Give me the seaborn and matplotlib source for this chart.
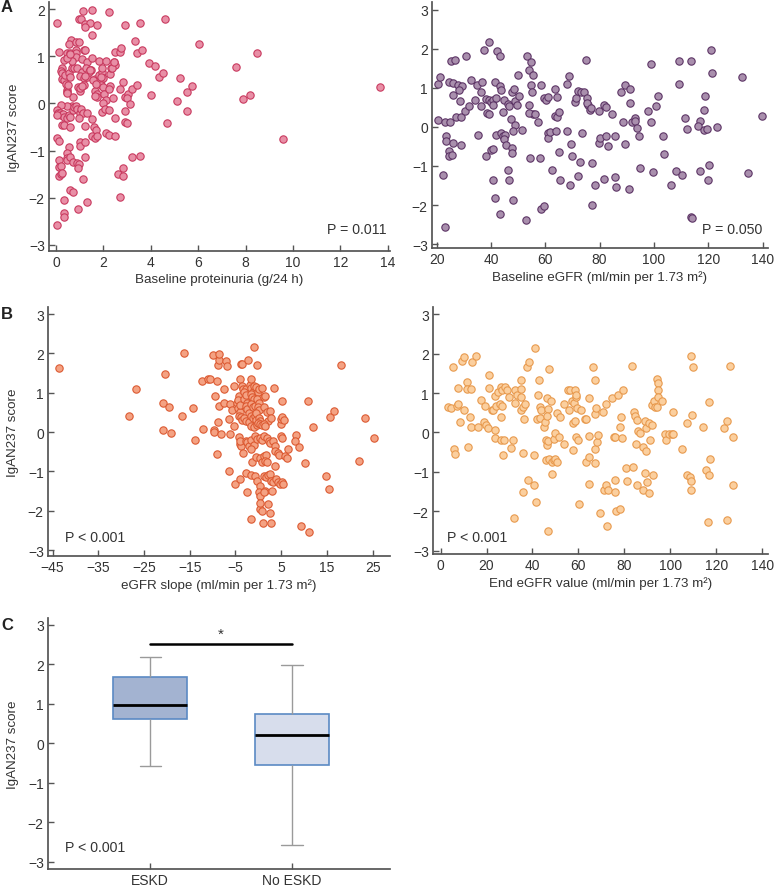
import pandas as pd
import matplotlib.pyplot as plt
import seaborn as sns

# A left: baseline proteinuria vs score
prot_x = [0.04, 1.14, 1.52, 2.22, 0.96, 1.05, 1.23, 1.43, 1.24, 1.73, 1.52, 2.92, 3.53, 4.61, 0.62, 0.53, 0.83, 0.96, 3.33, 6.03,
          0.11, 0.32, 0.46, 0.58, 0.83, 0.83, 1.17, 1.24, 0.86, 1.10, 1.32, 1.50, 1.81, 2.12, 2.43, 2.50, 2.50, 2.70, 2.72, 3.42,
          3.63, 0.27, 0.21, 0.24, 0.27, 0.32, 0.37, 0.53, 0.67, 0.74, 0.87, 1.10, 1.25, 1.42, 1.48, 1.03, 1.17, 1.31, 1.38, 1.63,
          1.80, 1.94, 1.94, 1.91, 2.00, 2.29, 2.32, 2.26, 2.83, 3.91, 4.19, 4.33, 4.51, 5.22, 5.72, 5.52, 7.61, 8.49, 13.68, 7.91,
          8.19, 5.10, 5.52, 4.02, 4.68, 9.60, 0.42, 0.46, 0.44, 0.72, 0.93, 1.00, 1.03, 1.17, 1.66, 1.73, 1.73, 1.90, 2.00, 2.04,
          2.12, 2.00, 1.94, 2.05, 2.22, 2.40, 2.68, 2.89, 3.02, 2.99, 3.22, 3.42, 3.13, 2.92, 2.22, 2.50, 2.91, 2.99, 0.25, 0.32,
          0.60, 0.67, 0.44, 0.22, 1.24, 1.52, 1.62, 1.70, 1.52, 1.66, 1.73, 2.12, 2.22, 2.50, 0.04, 0.13, 1.03, 1.03, 1.22, 0.53,
          1.21, 0.44, 0.44, 0.46, 0.60, 0.72, 0.89, 0.96, 0.91, 0.11, 0.11, 0.22, 0.11, 0.22, 0.25, 3.20, 3.53, 2.62, 2.83, 2.83,
          1.12, 0.60, 0.72, 0.32, 2.71, 1.31, 0.93, 0.32, 0.32, 0.04, 0.05, 0.10, 0.15, 0.20, 0.30, 0.35, 0.45, 0.55, 0.60, 0.70,
          0.75, 0.85, 0.90, 1.00, 1.05, 1.15, 1.30, 0.95, 0.02, 0.68, 0.45, 0.60, 0.52, 0.58, 1.08, 1.20, 1.45, 0.48, 1.55, 1.70,
          1.90, 2.35, 2.45, 1.65]
prot_y = [1.70, 1.96, 1.97, 1.93, 1.80, 1.80, 1.68, 1.71, 1.61, 1.66, 1.45, 1.66, 1.70, 1.80, 1.34, 1.27, 1.31, 1.31, 1.32, 1.27,
          1.09, 0.93, 1.06, 1.06, 1.13, 1.06, 1.13, 1.13, 0.99, 0.94, 0.87, 0.96, 0.90, 0.90, 0.88, 0.81, 1.10, 1.10, 1.17, 1.07,
          1.13, 0.76, 0.69, 0.65, 0.51, 0.50, 0.60, 0.65, 0.76, 0.74, 0.74, 0.67, 0.74, 0.71, 0.71, 0.58, 0.53, 0.55, 0.67, 0.51,
          0.60, 0.67, 0.74, 0.50, 0.53, 0.62, 0.74, 0.37, 0.46, 0.86, 0.79, 0.57, 0.64, 0.54, 0.37, 0.25, 0.78, 1.07, 0.34, 0.10,
          0.18, 0.05, -0.16, 0.17, -0.42, -0.76, 0.42, 0.28, 0.25, 0.13, 0.34, 0.27, 0.32, 0.39, 0.27, 0.20, 0.13, 0.39, 0.35, 0.19,
          0.08, 0.01, -0.18, -0.11, 0.30, 0.11, 0.30, 0.13, 0.20, 0.11, 0.31, 0.39, -0.02, -0.17, -0.14, -0.30, -0.39, -0.41, -0.45, -0.45,
          -0.50, -0.06, -0.06, -0.04, -0.47, -0.34, -0.50, -0.57, -0.69, -0.74, -0.69, -0.62, -0.67, -0.69, -0.74, -0.79, -0.81, -0.91, -0.81, -0.93,
          -1.13, -1.06, -1.16, -1.20, -1.13, -1.24, -1.27, -1.29, -1.38, -1.20, -1.34, -1.33, -1.54, -1.50, -1.47, -1.13, -1.11, -1.50, -1.54, -1.36,
          -1.61, -1.84, -1.87, -2.05, -1.99, -2.09, -2.23, -2.32, -2.40, -2.58, -0.15, -0.20, -0.20, -0.25, -0.22, -0.28, -0.30, -0.25, -0.28, -0.15,
          -0.08, -0.05, -0.12, -0.20, -0.12, -0.20, -0.20, -0.30, -0.25, 0.90, 0.96, 1.05, 0.40, 0.55, 0.37, 0.58, 0.70, 0.22, 0.50, 0.42,
          0.55, 0.75, 0.88, 0.15]

# A right: baseline eGFR vs score
base_x = [20.4, 21.2, 20.4, 23.0, 25.1, 23.3, 23.3, 24.5, 24.5, 25.5, 26.1, 29.1, 22.4, 23.0, 25.2, 26.7, 30.9, 24.6, 26.1, 27.9,
          29.5, 26.1, 28.3, 28.7, 27.2, 29.1, 30.3, 32.1, 32.8, 34.8, 36.8, 34.0, 36.4, 36.4, 39.4, 37.6, 42.1, 43.4, 38.0, 39.4,
          40.0, 40.9, 41.9, 38.5, 39.4, 40.6, 41.6, 43.3, 43.7, 44.3, 44.7, 46.1, 46.7, 47.9, 48.5, 48.9, 49.5, 50.4, 50.1, 47.3,
          48.9, 48.2, 51.6, 35.2, 38.2, 40.0, 40.9, 41.9, 43.7, 44.3, 45.3, 44.9, 45.5, 47.9, 47.9, 46.1, 46.5, 40.6, 41.6, 43.4,
          48.3, 52.8, 53.1, 54.6, 54.0, 55.5, 54.6, 55.2, 55.5, 54.0, 54.0, 56.4, 57.3, 58.6, 54.5, 58.0, 58.6, 59.5, 59.5, 60.1,
          60.9, 60.9, 60.9, 61.9, 62.5, 63.4, 63.7, 64.3, 64.1, 64.3, 64.9, 65.2, 65.3, 68.0, 68.6, 68.0, 69.4, 69.8, 69.2, 70.8,
          71.3, 72.2, 73.2, 74.1, 73.4, 72.8, 72.0, 75.0, 75.5, 75.9, 76.5, 75.3, 76.7, 77.3, 77.1, 78.3, 79.8, 79.8, 80.1, 81.7,
          82.2, 82.3, 83.2, 81.7, 84.4, 85.6, 85.6, 86.0, 87.8, 88.8, 89.5, 91.1, 89.5, 91.3, 90.8, 92.0, 92.9, 93.2, 93.8, 94.5,
          95.0, 97.7, 98.9, 98.9, 99.6, 100.8, 101.4, 103.5, 103.8, 106.4, 108.1, 109.1, 109.3, 110.3, 111.5, 112.3, 113.5, 113.5, 114.1, 116.8,
          116.8, 116.1, 118.3, 118.9, 118.3, 119.5, 120.2, 119.8, 121.4, 121.1, 123.2, 132.4, 134.8, 139.9]
base_y = [1.11, 1.28, 0.19, 0.12, 0.12, -0.24, -0.37, -0.62, -0.75, -0.73, -0.41, -0.45, -1.24, -2.57, 1.68, 1.71, 1.81, 1.15, 1.13, 1.08,
          1.04, 0.83, 0.94, 0.67, 0.26, 0.26, 0.40, 0.53, 1.19, 1.08, 1.15, 0.70, 0.89, 0.53, 2.17, 1.98, 1.95, 1.81, 0.72, 0.70,
          0.63, 0.70, 0.74, 0.36, 0.32, 0.55, 1.14, 1.06, 0.94, 0.38, 0.70, 0.60, 0.53, 0.89, 0.96, 0.66, 0.55, 0.78, 1.34, 0.21,
          0.06, -0.11, -0.07, -0.20, -0.75, -0.60, -0.56, -0.20, -0.15, -0.24, -0.20, -0.32, -0.45, -0.54, -0.67, -1.11, -1.35, -1.37, -1.82, -2.22,
          -1.86, -2.39, 1.81, 1.66, 1.45, 1.34, 1.08, 0.89, 0.32, 0.57, 0.36, 0.32, 0.12, 1.08, -0.79, -0.79, -2.09, -2.03, 0.73, 0.70,
          0.77, -0.15, -0.28, -0.14, -1.11, 0.97, 0.27, 0.25, -0.11, 0.76, 0.38, -0.65, -1.35, 1.11, 1.31, -0.11, -0.44, -0.75, -1.48, 0.63,
          0.73, 0.91, 0.89, 0.89, -0.15, -0.90, -1.26, 1.71, 0.74, 0.57, 0.43, 0.61, 0.49, -0.92, -1.99, -1.49, 0.42, -0.41, -0.28, 0.57,
          0.51, -0.24, -0.48, -1.33, 0.32, -0.24, -1.28, -1.54, 0.90, 0.12, 1.08, 0.96, -0.44, 0.61, -1.59, 0.12, 0.23, 0.16, -0.03, -0.24,
          -1.05, 0.40, 0.12, 1.61, -1.15, 0.53, 0.78, -0.24, -0.68, -1.49, -1.13, 1.10, 1.70, -1.24, 0.23, -0.05, 1.68, -2.30, -2.33, -1.12,
          0.15, 0.03, 0.44, 0.78, -0.07, -0.05, -0.98, -1.35, 1.37, 1.96, -0.01, 1.27, -1.19, 0.29]

# B left: eGFR slope vs score
slope_x = [-43.5, -28.2, -26.8, -20.9, -19.6, -20.4, -20.9, -19.1, -16.6, -16.3, -14.3, -13.8, -12.3, -12.0, -10.9, -10.6, -9.9, -9.6, -9.6, -9.4,
           -9.1, -9.0, -8.8, -8.7, -8.7, -8.8, -8.5, -8.2, -7.4, -7.1, -6.9, -7.4, -6.5, -6.4, -6.1, -6.1, -5.8, -5.4, -5.4, -5.0,
           -4.7, -4.3, -4.5, -4.4, -3.9, -4.1, -4.3, -3.8, -3.6, -4.2, -4.1, -3.8, -3.9, -3.9, -3.8, -3.6, -3.9, -3.6, -3.4, -2.8,
           -3.1, -3.2, -2.7, -2.4, -2.8, -2.4, -2.1, -3.2, -2.7, -2.1, -3.4, -2.8, -2.4, -2.7, -2.5, -2.3, -1.8, -1.6, -1.2, -1.7,
           -1.4, -1.0, -1.7, -1.2, -0.7, -1.7, -1.2, -0.7, -0.4, -1.6, -1.0, -0.3, -2.1, -1.6, -0.9, -1.5, -1.4, -1.6, -1.7, -1.6,
           -0.9, -1.0, -0.4, -0.1, 0.2, -0.3, 0.1, -0.1, 0.1, -0.4, 0.1, 0.4, -0.1, 0.3, 0.8, -0.3, -0.7, -0.3, 0.4, 0.8,
           -0.4, 0.3, 0.7, -0.7, -0.3, 0.3, 0.1, 0.4, 0.3, 0.7, 0.4, 1.0, 0.8, 1.2, 1.5, 1.2, 1.9, 2.5, 2.1, 1.2,
           1.5, 1.2, 1.9, 2.3, 2.6, 3.2, 1.2, 1.7, 1.5, 1.9, 1.3, 1.7, 2.1, 1.5, 1.2, 2.1, 2.6, 2.7, 2.5, 2.8,
           3.2, 3.0, 2.8, 3.4, 3.6, 3.7, 4.3, 3.6, 3.9, 4.3, 4.7, 5.2, 4.9, 5.0, 5.1, 5.2, 4.9, 5.2, 4.6, 5.4,
           5.7, 5.9, 6.4, 6.3, 8.3, 8.1, 8.8, 9.3, 10.3, 10.8, 11.0, 12.0, 14.8, 15.4, 15.6, 16.5, 18.0, 22.0, 23.3, 25.2]
slope_y = [1.63, 0.41, 1.09, 0.75, 0.64, 1.47, 0.05, -0.03, 0.42, 2.00, 0.60, -0.20, 1.30, 0.08, 1.36, 1.34, 1.97, 0.06, -0.01, 0.92,
           1.31, -0.56, 1.70, 1.83, 1.98, 0.26, 0.67, -0.05, 0.73, 1.81, 1.69, 1.09, 0.33, -1.00, -0.05, 0.71, 0.56, 1.18, 0.16, -1.32,
           0.74, 0.92, 0.82, 0.60, 0.50, 0.69, 0.42, 0.39, 0.31, -0.12, -0.31, -0.35, -0.22, -1.19, 1.73, 1.73, 1.36, 1.16, 1.09, 1.09,
           1.01, 0.84, 0.94, 0.75, 0.67, 0.58, 0.48, 0.35, 0.29, 0.25, -0.52, -0.22, -0.26, -1.03, -1.53, 1.83, 1.19, 1.11, 1.01, 0.97,
           0.88, 0.84, 0.71, 0.63, 0.67, 0.42, 0.37, 0.42, 0.31, 0.16, 0.13, 0.18, -0.35, -0.19, -0.33, -0.43, -0.77, -1.09, -2.21, 1.35,
           1.18, 2.17, 1.14, 1.01, 1.09, 0.84, 0.75, 0.65, 0.56, 0.48, 0.35, 0.29, 0.23, 0.20, 0.18, 1.70, -0.09, -0.18, -0.14, -0.19,
           -0.64, -0.67, -0.77, -1.11, -1.24, -1.36, -1.53, -1.62, -1.96, -2.00, -1.79, -2.30, 1.11, 0.88, 0.92, 0.65, 0.50, 0.54, 0.29, 0.20,
           0.16, -0.09, -0.14, -0.22, -0.28, -0.22, -0.60, -0.58, -0.73, -0.77, -1.11, -1.15, -1.09, -1.49, -1.53, -1.83, -2.06, -2.30, -1.07, -1.24,
           -1.28, -1.49, 0.37, 1.12, -0.35, -0.47, -0.52, -0.86, -1.19, -1.28, -1.32, -1.28, 0.20, 0.33, 0.79, 0.39, -0.09, -0.14, -0.58, -1.32,
           0.31, -0.60, -0.42, -0.67, -0.08, -0.22, -0.37, -2.38, -0.78, 0.80, -2.55, 0.12, -1.11, -1.45, 0.39, 0.53, 1.71, -0.73, 0.37, -0.14]

# B right: end eGFR vs score
end_x = [3.3, 4.7, 5.4, 5.7, 6.4, 7.0, 7.7, 7.4, 8.3, 9.4, 10.0, 10.4, 11.5, 11.6, 13.3, 11.9, 12.6, 13.3, 13.7, 15.2,
         16.2, 17.6, 19.5, 19.0, 19.8, 20.6, 20.9, 21.2, 22.2, 23.0, 23.5, 24.0, 23.8, 23.5, 24.8, 26.2, 26.9, 28.1, 28.8, 25.8,
         26.6, 26.2, 26.2, 27.6, 27.2, 29.8, 30.5, 31.5, 32.2, 32.6, 33.1, 31.9, 34.8, 35.2, 34.9, 35.1, 35.8, 36.9, 36.2, 36.0,
         35.8, 37.4, 38.4, 38.1, 40.5, 40.5, 41.2, 41.9, 41.7, 42.4, 42.7, 43.4, 43.8, 43.4, 45.0, 45.5, 45.8, 46.2, 46.7, 45.8,
         47.0, 46.2, 46.7, 46.5, 47.0, 46.7, 48.2, 48.7, 48.4, 49.4, 49.8, 50.5, 49.2, 49.8, 50.5, 51.9, 51.5, 53.7, 53.8, 55.5,
         56.3, 55.9, 57.7, 57.4, 58.1, 58.8, 58.4, 59.1, 59.5, 57.7, 58.4, 59.1, 59.8, 60.3, 61.3, 62.7, 63.1, 63.4, 64.4, 64.6,
         64.6, 64.6, 66.3, 67.0, 67.0, 67.3, 67.7, 67.3, 68.1, 68.7, 69.4, 70.6, 71.3, 72.0, 72.7, 72.0, 72.4, 74.8, 75.3, 75.9,
         76.0, 76.0, 76.3, 77.4, 78.2, 77.9, 78.4, 78.9, 79.2, 80.6, 81.0, 83.2, 83.7, 84.2, 84.6, 85.3, 84.9, 85.3, 85.9, 86.6,
         88.3, 88.2, 89.6, 89.1, 89.2, 88.8, 89.9, 90.6, 91.8, 91.1, 90.9, 92.0, 92.8, 93.2, 92.5, 94.2, 94.8, 94.8, 94.8, 94.2,
         96.3, 97.8, 98.2, 99.2, 100.6, 101.3, 101.3, 104.9, 107.1, 107.1, 108.5, 108.9, 108.9, 108.9, 110.0, 109.6, 114.0, 115.7, 116.8, 116.4,
         116.8, 117.1, 123.5, 124.8, 124.8, 126.1, 127.1, 127.4]
end_y = [0.64, 0.63, 1.66, -0.42, -0.54, 0.68, 0.73, 1.13, 0.26, 1.80, 1.91, 0.57, 1.28, 1.09, 1.09, -0.36, 0.39, 0.14, 1.78, 1.95,
         0.14, 0.83, 0.66, 0.26, 0.18, 0.12, 1.45, 1.12, 0.56, 0.57, 0.93, 0.68, 0.07, -0.14, 1.02, 1.15, 1.07, 1.15, 1.07, 0.73,
         0.66, 0.39, -0.19, -0.20, -0.58, 0.90, -0.40, -0.19, 0.74, 1.07, 0.94, -2.17, 1.09, 1.32, 0.91, 0.56, 0.64, 0.71, 0.35, -0.52,
         -1.51, 1.66, 1.78, -1.20, -0.58, -1.33, 2.14, 0.35, -1.75, 0.96, 1.32, 0.64, 0.56, 0.37, 0.14, 0.26, -0.19, -0.33, -0.22, -0.71,
         -0.67, 0.88, 0.59, 0.41, 1.60, -2.49, 0.79, -1.05, -0.75, -0.71, -0.67, -0.75, -0.16, -0.02, 0.49, 0.39, -0.12, 0.73, -0.29, 1.07,
         1.07, 0.57, -0.44, 0.79, 0.74, 0.90, 1.07, 0.96, 0.63, 0.24, 0.30, -0.12, -0.19, -1.81, 0.57, 0.35, 0.35, -0.74, -0.63, 0.88,
         -0.10, -1.30, 1.67, 1.32, 0.47, -0.41, 0.63, -0.78, -0.25, -0.06, -2.05, 0.52, -1.45, -1.33, -1.45, 0.71, -2.36, 0.88, -0.12, -0.12,
         -1.20, -1.51, -1.98, 0.94, -1.94, 0.14, 0.39, -0.14, 1.07, -0.90, -1.24, 1.68, -0.88, 0.52, 0.41, 0.32, -0.29, -1.33, 0.03, -0.02,
         -1.45, -0.37, -0.48, 0.28, 0.11, -1.02, -1.26, 0.24, 0.20, -0.20, -1.54, 0.70, 0.79, 0.64, -1.07, 1.36, 1.25, 1.08, 0.90, 0.64,
         0.79, -0.03, -0.20, -0.03, -0.03, -0.03, 0.52, -0.41, 0.24, -1.07, -1.13, -1.22, -1.45, 1.95, 1.66, 0.45, 0.14, -0.96, -1.09, -2.26,
         0.77, -0.67, 0.11, 0.29, -2.23, 1.68, -0.12, -1.32]

# C: box summary per group (min, q1, median, q3, max)
groups = ["ESKD", "No ESKD"]
eskd_vals = [-0.57, 0.62, 0.97, 1.69, 2.19]
no_eskd_vals = [-2.57, -0.55, 0.21, 0.73, 1.97]

sns.set_theme(style="ticks")
plt.rcParams["font.family"] = ["Liberation Sans", "DejaVu Sans"]
plt.rcParams["axes.edgecolor"] = "#555555"
plt.rcParams["xtick.color"] = "#555555"
plt.rcParams["ytick.color"] = "#555555"
plt.rcParams["xtick.labelcolor"] = "#333333"
plt.rcParams["ytick.labelcolor"] = "#333333"
plt.rcParams["axes.labelcolor"] = "#333333"

W, H = 776, 887
FS = 9.6
fig = plt.figure(figsize=(W / 100, H / 100), dpi=100)


def make_ax(left, top, right, bottom):
    return fig.add_axes([left / W, 1 - bottom / H, (right - left) / W, (bottom - top) / H])


def style(ax, xlabel, ylabel):
    sns.despine(ax=ax)
    ax.tick_params(direction="in", length=4, width=1, labelsize=FS + 0.4, pad=3)
    ax.set_xlabel(xlabel, fontsize=FS, labelpad=3)
    if ylabel:
        ax.set_ylabel(ylabel, fontsize=FS, labelpad=6)
    else:
        ax.set_ylabel("")


pt = dict(s=28, linewidth=0.8, legend=False)

# A left
ax1 = make_ax(49, 3, 390, 252)
sns.scatterplot(x=prot_x, y=prot_y, ax=ax1, color="#e88fa6", edgecolor="#c93a5f", **pt)
ax1.set_xlim(-0.3, 14.1)
ax1.set_ylim(-3.13, 2.15)
ax1.set_xticks(range(0, 15, 2))
ax1.set_yticks(range(-3, 3))
style(ax1, "Baseline proteinuria (g/24 h)", "IgAN237 score")
ax1.text(0.99, 0.088, "P = 0.011", transform=ax1.transAxes, ha="right", va="center", fontsize=FS + 0.6, color="#333333")

# A right
ax2 = make_ax(432, 3, 768, 249)
sns.scatterplot(x=base_x, y=base_y, ax=ax2, color="#a98fad", edgecolor="#5d3566", **pt)
ax2.set_xlim(18.3, 142.0)
ax2.set_ylim(-3.1, 3.2)
ax2.set_xticks(range(20, 141, 20))
ax2.set_yticks(range(-3, 4))
style(ax2, "Baseline eGFR (ml/min per 1.73 m²)", None)
ax2.text(0.982, 0.077, "P = 0.050", transform=ax2.transAxes, ha="right", va="center", fontsize=FS + 0.6, color="#333333")

# B left
ax3 = make_ax(48, 308, 390, 557)
sns.scatterplot(x=slope_x, y=slope_y, ax=ax3, color="#f4a283", edgecolor="#dc5a32", **pt)
ax3.set_xlim(-46, 28.8)
ax3.set_ylim(-3.15, 3.18)
ax3.set_xticks(range(-45, 26, 10))
ax3.set_yticks(range(-3, 4))
style(ax3, "eGFR slope (ml/min per 1.73 m²)", "IgAN237 score")
ax3.text(0.05, 0.076, "P < 0.001", transform=ax3.transAxes, ha="left", va="center", fontsize=FS + 0.6, color="#333333")

# B right
ax4 = make_ax(433, 308, 768, 555)
sns.scatterplot(x=end_x, y=end_y, ax=ax4, color="#fbcf9e", edgecolor="#e89a4e", **pt)
ax4.set_xlim(-3.3, 142.5)
ax4.set_ylim(-3.08, 3.18)
ax4.set_xticks(range(0, 141, 20))
ax4.set_yticks(range(-3, 4))
style(ax4, "End eGFR value (ml/min per 1.73 m²)", None)
ax4.text(0.041, 0.069, "P < 0.001", transform=ax4.transAxes, ha="left", va="center", fontsize=FS + 0.6, color="#333333")

# C boxplot
ax5 = make_ax(48, 619, 390, 870)
box_df = pd.DataFrame({
    "group": [groups[0]] * len(eskd_vals) + [groups[1]] * len(no_eskd_vals),
    "score": eskd_vals + no_eskd_vals,
})
sns.boxplot(data=box_df, x="group", y="score", hue="group", order=groups,
            palette=["#9cb0d8", "#d4dcef"], width=0.52, whis=(0, 100), ax=ax5,
            showfliers=False, legend=False, capwidths=0.15,
            boxprops=dict(edgecolor="#5b8ac4", linewidth=1.2),
            whiskerprops=dict(color="#9a9a9a", linewidth=1),
            capprops=dict(color="#9a9a9a", linewidth=1),
            medianprops=dict(color="black", linewidth=2))
ax5.set_xlim(-0.72, 1.69)
ax5.set_ylim(-3.18, 3.17)
ax5.set_yticks(range(-3, 4))
style(ax5, "", "IgAN237 score")
ax5.set_xlabel("")
ax5.plot([0, 1], [2.51, 2.51], color="black", linewidth=1.8)
ax5.text(0.5, 2.6, "*", ha="center", va="bottom", fontsize=11, color="#333333")
ax5.text(0.05, 0.088, "P < 0.001", transform=ax5.transAxes, ha="left", va="center", fontsize=FS + 0.6, color="#333333")

for lbl, y in [("A", 8), ("B", 315), ("C", 625)]:
    fig.text(1 / W, 1 - y / H, lbl, fontsize=12, fontweight="bold", ha="left", va="center", color="#222222")

fig.savefig("out.png", dpi=100)
